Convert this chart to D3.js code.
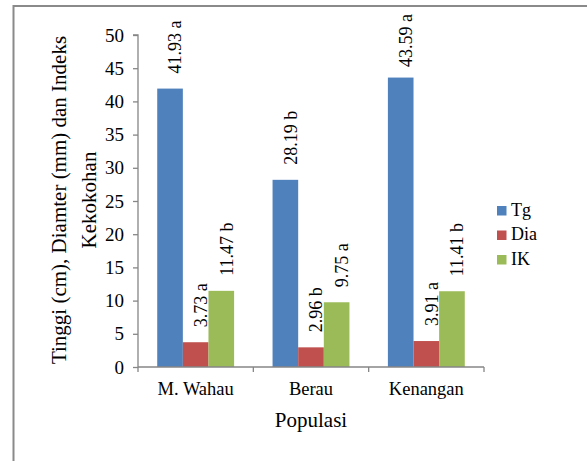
<!DOCTYPE html>
<html>
<head>
<meta charset="utf-8">
<script src="https://cdn.jsdelivr.net/npm/d3@7"></script>
<style>
  html, body { margin: 0; padding: 0; background: #fff; overflow: hidden; width: 587px; height: 461px; }
  svg { display: block; }
</style>
</head>
<body>
<svg id="chart" width="587" height="461" viewBox="0 0 587 461"></svg>
<script>
// Populations and measured traits
const categories = ["M. Wahau", "Berau", "Kenangan"];
const seriesNames = ["Tg", "Dia", "IK"];
const tgValues  = [41.93, 28.19, 43.59];
const diaValues = [3.73, 2.96, 3.91];
const ikValues  = [11.47, 9.75, 11.41];
const tgLetters  = ["a", "b", "a"];
const diaLetters = ["a", "b", "a"];
const ikLetters  = ["b", "a", "b"];
const yTicks = [0, 5, 10, 15, 20, 25, 30, 35, 40, 45, 50];
const colors = ["#4F81BD", "#C0504D", "#9BBB59"];

const seriesValues = [tgValues, diaValues, ikValues];
const seriesLetters = [tgLetters, diaLetters, ikLetters];

const FONT = "'Liberation Serif', 'Times New Roman', serif";
const svg = d3.select("#chart");
const axisColor = "#868686";

// white page background
svg.append("rect").attr("width", 587).attr("height", 461).attr("fill", "#fff");

// outer frame (top and left edges visible)
svg.append("path")
  .attr("d", "M13.5,461V6H587")
  .attr("fill", "none").attr("stroke", "#8a8a8a").attr("stroke-width", 2);

const plot = { left: 138, right: 484, top: 35, bottom: 367 };

const x0 = d3.scaleBand().domain(categories).range([plot.left, plot.right]).padding(0);
const bw = x0.bandwidth();
const barW = bw / 4.5;                 // 150% gap between groups
const x1 = d3.scaleBand().domain(seriesNames).range([barW * 0.75, bw - barW * 0.75]).padding(0);
const y = d3.scaleLinear().domain([0, 50]).range([plot.bottom, plot.top]);

// bars
const rows = [];
categories.forEach((c, i) => {
  seriesNames.forEach((s, j) => {
    rows.push({ cat: c, series: s, value: seriesValues[j][i], letter: seriesLetters[j][i], color: colors[j] });
  });
});

svg.append("g").selectAll("rect").data(rows).join("rect")
  .attr("x", d => x0(d.cat) + x1(d.series))
  .attr("y", d => y(d.value))
  .attr("width", x1.bandwidth())
  .attr("height", d => y(0) - y(d.value))
  .attr("fill", d => d.color);

// value labels, rotated above each bar
const labels = svg.append("g").selectAll("text").data(rows).join("text")
  .style("font-family", FONT)
  .attr("font-size", 18)
  .attr("fill", "#000")
  .attr("dy", "0.35em")
  .text(d => d.value.toFixed(2) + " " + d.letter);

labels.each(function(d) {
  const node = this;
  const len = node.getComputedTextLength();
  const cx = x0(d.cat) + x1(d.series) + x1.bandwidth() / 2 + 5;
  let pos = y(d.value) - 15;
  if (pos - len < 14) pos = 14 + len;
  d3.select(node).attr("transform", `translate(${cx},${pos}) rotate(-90)`);
});

// y axis
const yAxis = svg.append("g")
  .attr("transform", `translate(${plot.left},0)`)
  .call(d3.axisLeft(y).tickValues(yTicks).tickSize(5).tickPadding(9).tickFormat(d3.format("d")));
yAxis.select(".domain").attr("stroke", axisColor).attr("stroke-width", 1.3).attr("d", `M-5,${plot.top}H0V${plot.bottom}`);
yAxis.selectAll(".tick line").attr("stroke", axisColor).attr("stroke-width", 1.3);
yAxis.selectAll(".tick text").attr("font-size", 19).style("font-family", FONT).attr("fill", "#000");

// x axis
const xAxisG = svg.append("g");
xAxisG.append("line")
  .attr("x1", plot.left).attr("x2", plot.right)
  .attr("y1", plot.bottom).attr("y2", plot.bottom)
  .attr("stroke", axisColor).attr("stroke-width", 1.3);
const bounds = categories.map(c => x0(c)).concat([plot.right]);
xAxisG.selectAll("line.tk").data(bounds).join("line")
  .attr("class", "tk")
  .attr("x1", d => d).attr("x2", d => d)
  .attr("y1", plot.bottom).attr("y2", plot.bottom + 5)
  .attr("stroke", axisColor).attr("stroke-width", 1.3);
xAxisG.selectAll("text").data(categories).join("text")
  .attr("x", d => x0(d) + bw / 2)
  .attr("y", 395)
  .attr("text-anchor", "middle")
  .style("font-family", FONT)
  .attr("font-size", 18.5)
  .attr("fill", "#000")
  .text(d => d);

// axis titles
svg.append("text")
  .attr("x", (plot.left + plot.right) / 2).attr("y", 426.5)
  .attr("text-anchor", "middle").style("font-family", FONT).attr("font-size", 21).attr("fill", "#000")
  .text("Populasi");

const yTitle = svg.append("text")
  .attr("transform", "translate(0,200) rotate(-90)")
  .attr("text-anchor", "middle").style("font-family", FONT).attr("font-size", 21).attr("fill", "#000");
yTitle.append("tspan").attr("x", 0).attr("y", 66).text("Tinggi (cm), Diamter (mm) dan Indeks");
yTitle.append("tspan").attr("x", 0).attr("y", 95.5).text("Kekokohan");

// legend
const legend = svg.append("g").selectAll("g").data(seriesNames).join("g")
  .attr("transform", (d, i) => `translate(497,${206 + i * 24.5})`);
legend.append("rect")
  .attr("width", 9.5).attr("height", 9.5)
  .attr("fill", (d, i) => colors[i]);
legend.append("text")
  .attr("x", 14).attr("y", 9.5)
  .style("font-family", FONT)
  .attr("font-size", 18).attr("fill", "#000")
  .text(d => d);
</script>
</body>
</html>
